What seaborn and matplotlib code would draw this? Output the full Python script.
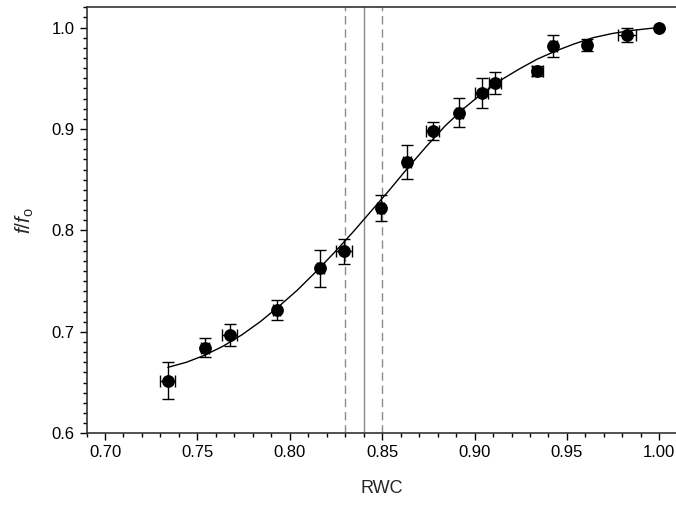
import numpy as np
import pandas as pd
import matplotlib
matplotlib.use('Agg')
import matplotlib.pyplot as plt
from matplotlib.ticker import MultipleLocator, FormatStrFormatter
import seaborn as sns

# data
rwc = [0.7339, 0.7541, 0.7675, 0.7929, 0.8165, 0.8293, 0.8492, 0.8634, 0.8773,
       0.8917, 0.9038, 0.9112, 0.9339, 0.9426, 0.9610, 0.9823, 1.0000]
ratio = [0.652, 0.6845, 0.697, 0.7215, 0.7625, 0.7795, 0.822, 0.8675, 0.898,
         0.916, 0.9355, 0.9455, 0.957, 0.9815, 0.983, 0.993, 1.000]
ratio_err = [0.0185, 0.009, 0.0105, 0.0102, 0.0178, 0.0125, 0.0127, 0.0168, 0.0087,
             0.0143, 0.0145, 0.0105, 0.005, 0.0109, 0.0057, 0.0069, 0.0]
rwc_err = [0.0042, 0.002, 0.004, 0.002, 0.002, 0.0043, 0.002, 0.002, 0.0034,
           0.002, 0.0036, 0.0033, 0.003, 0.002, 0.002, 0.0048, 0.0]

# fitted curve
fit_rwc = [0.734, 0.744, 0.754, 0.764, 0.774, 0.784, 0.794, 0.804, 0.814, 0.824,
           0.834, 0.844, 0.854, 0.864, 0.874, 0.884, 0.894, 0.904, 0.914, 0.924,
           0.934, 0.944, 0.954, 0.964, 0.974, 0.984, 0.994, 1.000]
fit_ratio = [0.665, 0.670, 0.677, 0.686, 0.697, 0.710, 0.725, 0.741, 0.759, 0.778,
             0.798, 0.819, 0.840, 0.862, 0.883, 0.903, 0.920, 0.935, 0.948, 0.959,
             0.969, 0.977, 0.984, 0.990, 0.994, 0.997, 0.999, 1.000]

vline_mid = 0.84
vline_band = [0.83, 0.85]

df = pd.DataFrame({'RWC': rwc, 'ratio': ratio})
fit = pd.DataFrame({'RWC': fit_rwc, 'ratio': fit_ratio})

sns.set_style('ticks')
plt.rcParams['font.family'] = ['Liberation Sans', 'DejaVu Sans']
plt.rcParams['mathtext.fontset'] = 'custom'
plt.rcParams['mathtext.it'] = 'Liberation Sans:italic'
plt.rcParams['mathtext.rm'] = 'Liberation Sans'

fig = plt.figure(figsize=(6.76, 5.05), dpi=100)
ax = fig.add_axes([0.128, 0.142, 0.8747, 0.8435])

# reference lines
ax.axvline(vline_mid, color='#8c8c8c', lw=1.0, zorder=1)
for v in vline_band:
    ax.axvline(v, color='#8c8c8c', lw=1.0, ls=(0, (6, 3.5)), zorder=1)

# fitted curve
sns.lineplot(data=fit, x='RWC', y='ratio', color='black', lw=1.0, ax=ax, zorder=2)

# points with error bars
ax.errorbar(rwc, ratio, yerr=ratio_err, xerr=rwc_err, fmt='none', ecolor='black',
            elinewidth=1.0, capsize=4.5, capthick=1.0, zorder=3)
sns.scatterplot(data=df, x='RWC', y='ratio', color='black', s=85, edgecolor='black',
                linewidth=0, ax=ax, zorder=4)

ax.set_xlim(0.69, 1.01)
ax.set_ylim(0.6, 1.02)
ax.xaxis.set_major_locator(MultipleLocator(0.05))
ax.xaxis.set_minor_locator(MultipleLocator(0.01))
ax.yaxis.set_major_locator(MultipleLocator(0.1))
ax.yaxis.set_minor_locator(MultipleLocator(0.01))
ax.xaxis.set_major_formatter(FormatStrFormatter('%.2f'))
ax.yaxis.set_major_formatter(FormatStrFormatter('%.1f'))
ax.tick_params(which='major', direction='out', length=5, width=1, labelsize=12, colors='black')
ax.tick_params(which='minor', direction='out', length=3, width=1, colors='black')
ax.tick_params(top=False, right=False, which='both')
for s in ax.spines.values():
    s.set_visible(True)
    s.set_color('#333333')
    s.set_linewidth(1.2)

ax.set_xlabel('RWC', fontsize=13, labelpad=14)
ax.set_ylabel(r'$\mathit{f/f}_{\mathrm{o}}$', fontsize=15, labelpad=11)

fig.savefig('out.png', dpi=100)
